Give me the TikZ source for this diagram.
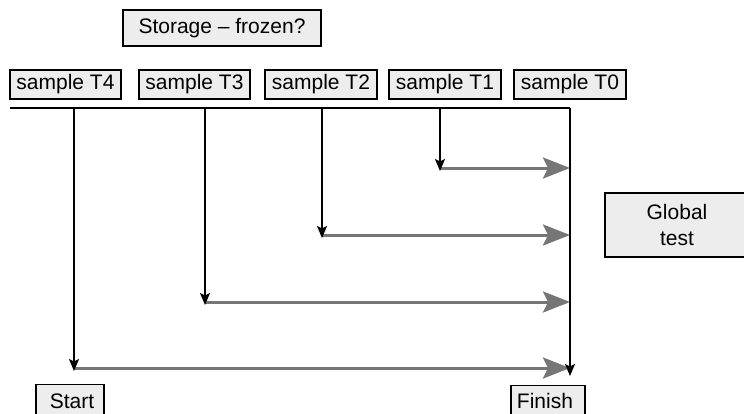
\documentclass[tikz,border=0pt]{standalone}
\usepackage{fontspec}
\setmainfont{Liberation Sans}
\usetikzlibrary{arrows.meta}
\definecolor{boxfill}{HTML}{EDEDED}
\definecolor{flowgray}{HTML}{767676}
\tikzset{
  label box/.style={draw=black, line width=1.1pt, fill=boxfill, inner sep=0pt,
    minimum height=29pt, font=\fontsize{21}{26}\selectfont, anchor=center},
  drop/.style={draw=black, line width=1.5pt, -{Stealth[length=12pt,width=10pt,inset=2.5pt]}},
  plain rule/.style={draw=black, line width=1.5pt},
  feed/.style={draw=flowgray, line width=3pt, -{Stealth[length=27pt,width=21pt,inset=5pt]}},
}
\begin{document}
\begin{tikzpicture}[x=1pt,y=-1pt]
  \useasboundingbox (0,0) rectangle (744,413);
  \begin{scope}
    \clip (0,0) rectangle (744,413);

    % storage box and the sample labels
    \node[label box, minimum width=198pt, minimum height=36pt] (storage) at (222,28) {Storage -- frozen?};
    \node[label box, minimum width=111pt] (t4) at (65.5,84.5) {sample T4};
    \node[label box, minimum width=111pt] (t3) at (194.5,84.5) {sample T3};
    \node[label box, minimum width=112pt] (t2) at (321,84.5) {sample T2};
    \node[label box, minimum width=112pt] (t1) at (445,84.5) {sample T1};
    \node[label box, minimum width=112pt] (t0) at (570,84.5) {sample T0};

    % end labels, cut off by the frame
    \node[label box, minimum width=144pt, minimum height=64pt, align=center] (global) at (677,225) {Global\\test};
    \node[label box, minimum width=68pt, minimum height=34pt, anchor=north] (start) at (70,384) {};
    \node[anchor=base, font=\fontsize{21}{26}\selectfont] (starttxt) at (72,408) {Start};
    \node[label box, minimum width=74pt, minimum height=34pt, anchor=north] (finish) at (548,385) {};
    \node[anchor=base, font=\fontsize{21}{26}\selectfont] (finishtxt) at (545,408) {Finish};
  \end{scope}

  % time axis
  \coordinate (axL) at (10,108);
  \coordinate (axR) at (570,108);
  \coordinate (a4) at (74,108);
  \coordinate (a3) at (205,108);
  \coordinate (a2) at (322,108);
  \coordinate (a1) at (440,108);
  \coordinate (b4) at (74,368);
  \coordinate (b3) at (205,302);
  \coordinate (b2) at (322,235);
  \coordinate (b1) at (440,168);
  \coordinate (e4) at (570,368);
  \coordinate (e3) at (570,302);
  \coordinate (e2) at (570,235);
  \coordinate (e1) at (570,168);
  \coordinate (fin) at (570,376);

  % grey feeds into the final line
  \draw[feed] (b1) -- (e1);
  \draw[feed] (b2) -- (e2);
  \draw[feed] (b3) -- (e3);
  \draw[feed] (b4) -- (e4);

  \draw[plain rule] (axL) -- (axR);
  \draw[drop] (a1) -- ([yshift=-3pt]b1);
  \draw[drop] (a2) -- ([yshift=-3pt]b2);
  \draw[drop] (a3) -- ([yshift=-3pt]b3);
  \draw[drop] (a4) -- ([yshift=-3pt]b4);
  \draw[drop] (axR) -- (fin);
\end{tikzpicture}
\end{document}
